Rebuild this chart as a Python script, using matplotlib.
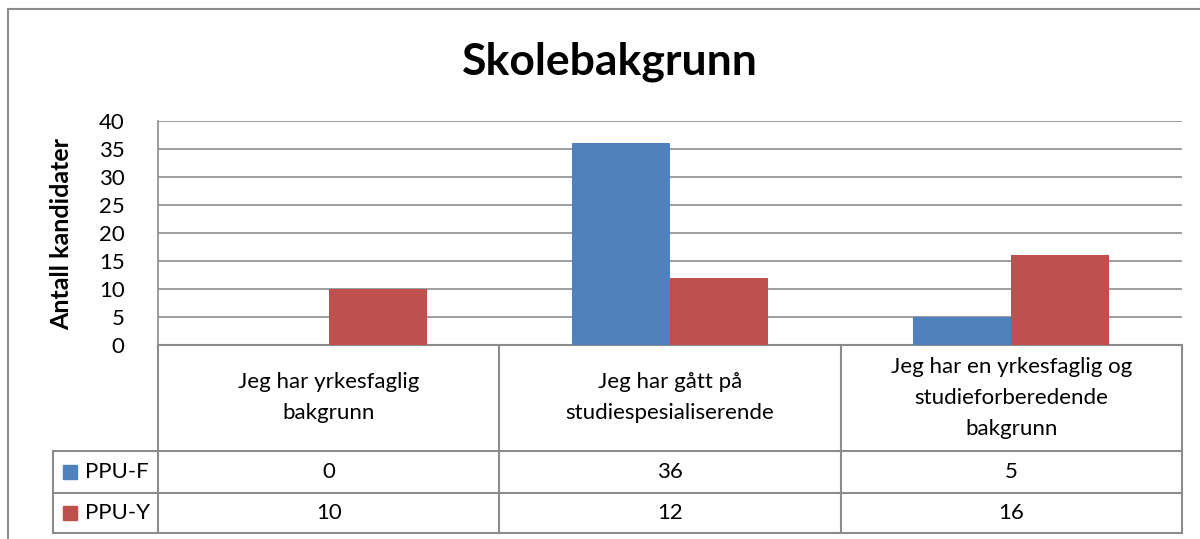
import matplotlib.pyplot as plt
from matplotlib.patches import Rectangle
import matplotlib.transforms as mtransforms
import numpy as np

plt.rcParams['font.family'] = ['Lato', 'DejaVu Sans']

categories = ["Jeg har yrkesfaglig\nbakgrunn",
              "Jeg har gått på\nstudiespesialiserende",
              "Jeg har en yrkesfaglig og\nstudieforberedende\nbakgrunn"]
series_names = ["PPU-F", "PPU-Y"]
ppu_f = [0, 36, 5]
ppu_y = [10, 12, 16]
yticks = [0, 5, 10, 15, 20, 25, 30, 35, 40]
colors = ["#4F81BD", "#C0504D"]
grid_col = "#8C8C8C"
fs = 16

W, H = 1200, 539
fig = plt.figure(figsize=(W / 100, H / 100), dpi=100)

# chart outer border
fig.patches.append(Rectangle((8 / W, -0.05), 1.1, 1 - 9 / H + 0.05, transform=fig.transFigure,
                             fill=False, edgecolor="#8C8C8C", linewidth=1.5))

ax = fig.add_axes([158 / W, 1 - 345 / H, 1024 / W, 224 / H])
x = np.arange(len(categories))
bw = 0.287
ax.bar(x - bw / 2, ppu_f, bw, color=colors[0], zorder=3)
ax.bar(x + bw / 2, ppu_y, bw, color=colors[1], zorder=3)
ax.set_xlim(-0.5, len(categories) - 0.5)
ax.set_ylim(0, 40)
ax.set_yticks(yticks)
ax.set_xticks([])
ax.tick_params(axis="y", length=0, pad=24, labelsize=fs)
ax.grid(axis="y", color=grid_col, linewidth=1.2, zorder=0)
for s in ["top", "right", "bottom"]:
    ax.spines[s].set_visible(False)
ax.spines["left"].set_color(grid_col)
ax.spines["left"].set_linewidth(1.2)

fig.text(62 / W, 1 - 234 / H, "Antall kandidater", rotation=90, ha="center", va="center",
         fontsize=18, fontweight="bold")
fig.text(610 / W, 1 - 62 / H, "Skolebakgrunn", ha="center", va="center",
         fontsize=32, fontweight="bold")

# data table below the axis (x in data units, y in figure pixels)
trans = mtransforms.blended_transform_factory(ax.transData, fig.transFigure)
def fy(py):
    return 1 - py / H

y_top, y_r1, y_r2, y_bot = 345, 450.7, 492.7, 533
lc = grid_col
lw = 1.5
left_col = 53 / W
# horizontal lines
ax.plot([-0.5, 2.5], [fy(y_top)] * 2, color=lc, lw=lw, transform=trans, clip_on=False)
for yy in (y_r1, y_r2, y_bot):
    fig.add_artist(plt.Line2D([left_col, 1182 / W], [fy(yy)] * 2, color=lc, lw=lw))
# vertical lines
for xb in (-0.5, 0.5, 1.5, 2.5):
    ax.plot([xb, xb], [fy(y_top), fy(y_bot)], color=lc, lw=lw, transform=trans, clip_on=False)
fig.add_artist(plt.Line2D([left_col] * 2, [fy(y_r1), fy(y_bot)], color=lc, lw=lw))

for i, cat in enumerate(categories):
    ax.text(i, fy((y_top + y_r1) / 2), cat, transform=trans, ha="center", va="center",
            fontsize=fs, linespacing=1.7)
    for vals, y0, y1 in ((ppu_f, y_r1, y_r2), (ppu_y, y_r2, y_bot)):
        ax.text(i, fy((y0 + y1) / 2), str(vals[i]), transform=trans, ha="center",
                va="center", fontsize=fs)

for name, col, y0, y1 in ((series_names[0], colors[0], y_r1, y_r2),
                          (series_names[1], colors[1], y_r2, y_bot)):
    yc = (y0 + y1) / 2
    fig.patches.append(Rectangle((63 / W, fy(yc + 7)), 14 / W, 14 / H, transform=fig.transFigure,
                                 color=col))
    fig.text(85 / W, fy(yc), name, ha="left", va="center", fontsize=fs)

fig.savefig("out.png", dpi=100)
